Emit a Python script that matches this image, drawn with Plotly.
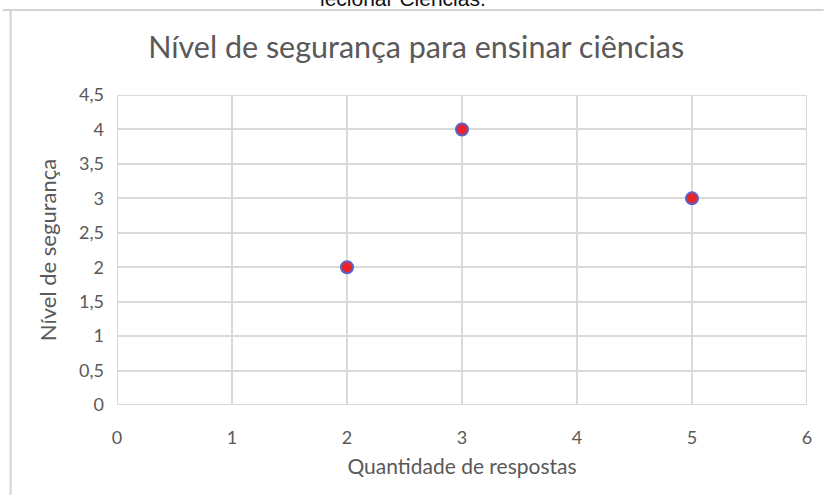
import plotly.graph_objects as go

x_vals = [2, 3, 5]
y_vals = [2, 4, 3]
title_text = "Nível de segurança para ensinar ciências"
x_title = "Quantidade de respostas"
y_title = "Nível de segurança"
top_text = "lecionar Ciências."

FONT = "Lato"
GRAY = "#595959"

fig = go.Figure()
fig.add_trace(go.Scatter(
    x=x_vals, y=y_vals, mode="markers",
    marker=dict(size=12, color="#e8262a", line=dict(color="#5b5fc7", width=2)),
    showlegend=False,
))

fig.update_layout(
    width=824, height=495,
    margin=dict(l=117, r=17, t=95, b=90),
    paper_bgcolor="white", plot_bgcolor="white",
    separators=", ",
    font=dict(family=FONT, color=GRAY, size=17),
    title=dict(text=title_text, x=0.505, xanchor="center", y=1 - 47/495, yanchor="middle",
               font=dict(family=FONT, size=30.5, color=GRAY)),
    xaxis=dict(range=[0, 6], dtick=1, tick0=0, showgrid=True, gridcolor="#d9d9d9", gridwidth=2,
               zeroline=False, showline=False, ticks="", ticklabelstandoff=20,
               tickfont=dict(size=18, color=GRAY),
               title=dict(text=x_title, font=dict(size=21, color=GRAY), standoff=12)),
    yaxis=dict(range=[0, 4.5], dtick=0.5, tick0=0, showgrid=True, gridcolor="#d9d9d9", gridwidth=2,
               zeroline=False, showline=False, ticks="", ticklabelstandoff=12,
               tickfont=dict(size=18, color=GRAY),
               title=dict(text=y_title, font=dict(size=22, color=GRAY), standoff=16)),
)

# plot-area border
fig.add_shape(type="rect", xref="x", yref="y", x0=0, x1=6, y0=0, y1=4.5,
              line=dict(color="#d9d9d9", width=2), layer="below")

# document frame around the chart (scanned page)
fig.add_shape(type="line", xref="paper", yref="paper",
              x0=-117/707, x1=1 + 17/707, y0=1 + 85/310, y1=1 + 85/310,
              line=dict(color="#d4d4d4", width=2))
fig.add_shape(type="line", xref="paper", yref="paper",
              x0=-109/707, x1=-109/707, y0=1 + 85/310, y1=-90/310,
              line=dict(color="#d4d4d4", width=2))
fig.add_annotation(text=top_text, xref="paper", yref="paper",
                   x=(410 - 117)/707, y=1 + (95 - 12)/310, xanchor="center", yanchor="bottom",
                   showarrow=False, font=dict(family="Liberation Sans", size=21, color="#111111"))

fig.write_html("out.html")
